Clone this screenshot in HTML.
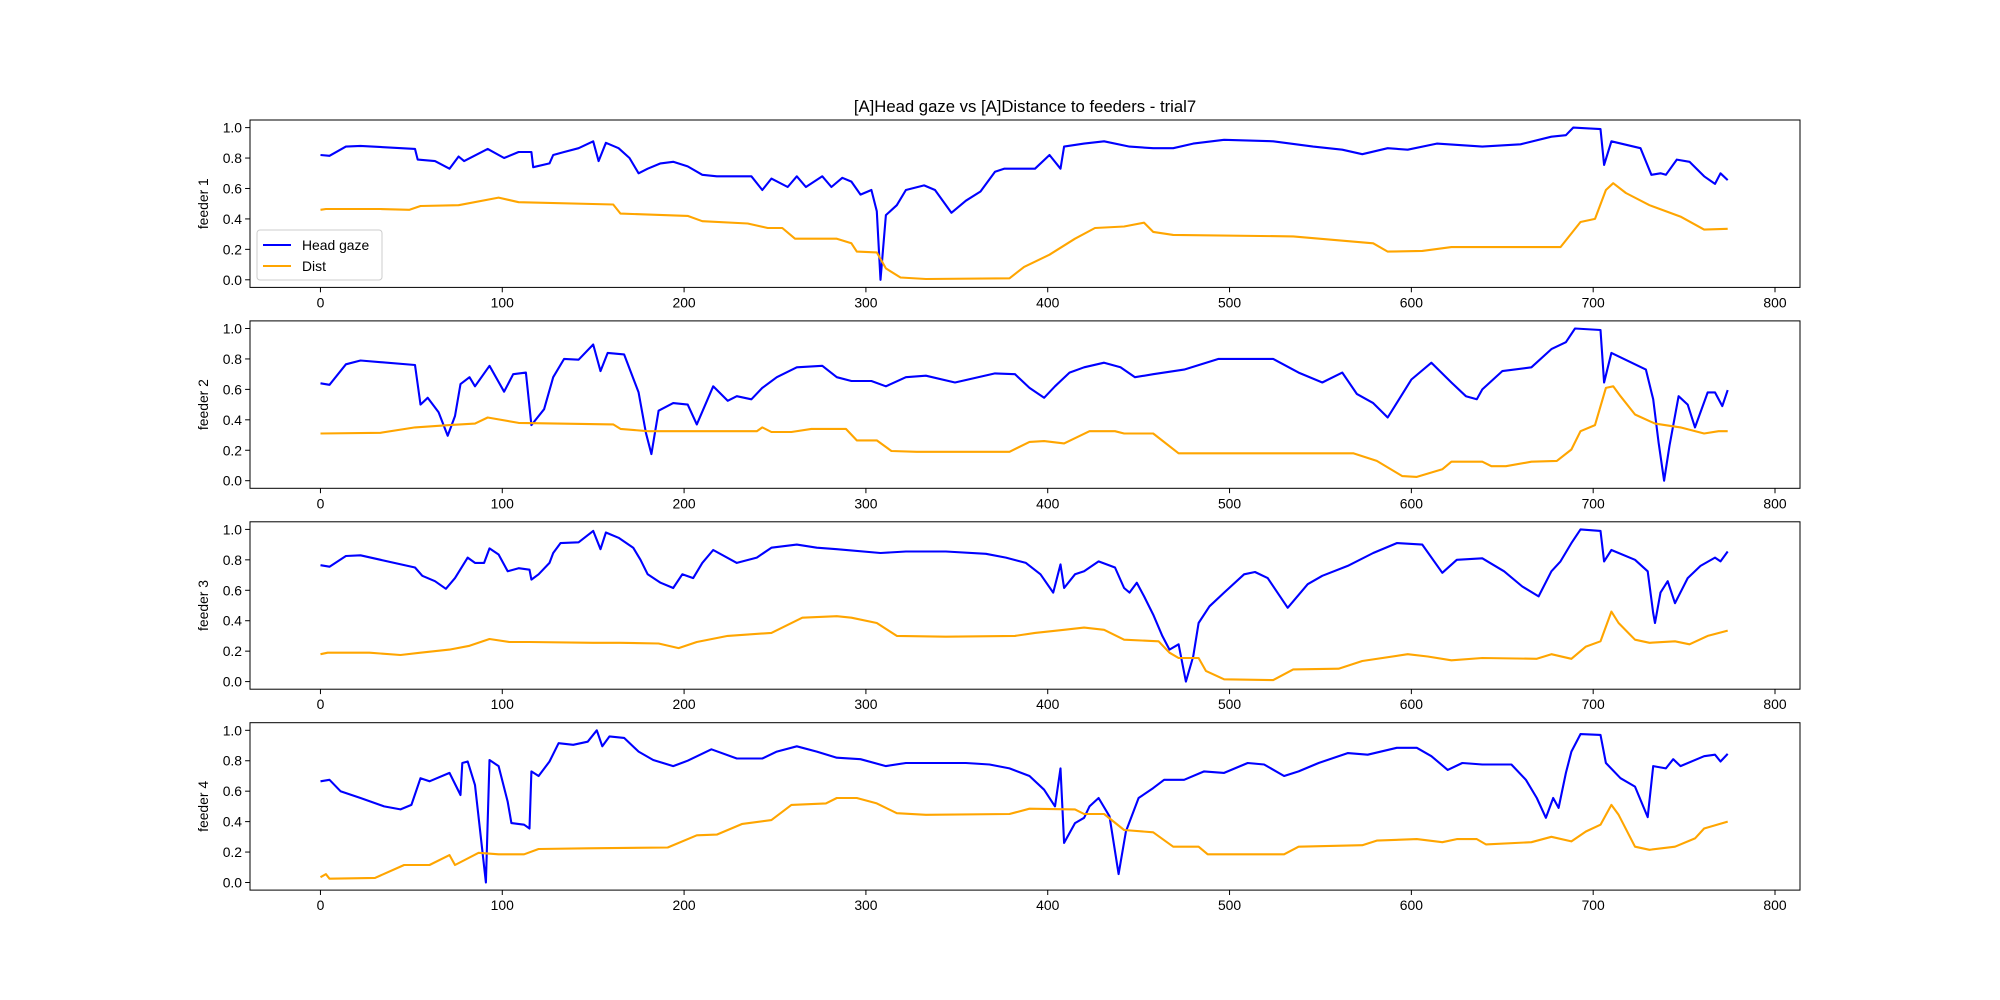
<!DOCTYPE html>
<html><head><meta charset="utf-8"><style>
html,body{margin:0;padding:0;background:#fff;}
svg{display:block;font-family:"Liberation Sans","DejaVu Sans",sans-serif;}
</style></head><body>
<svg id="chart" width="2000" height="1000" viewBox="0 0 2000 1000" xmlns="http://www.w3.org/2000/svg">
<rect width="2000" height="1000" fill="#fff"/>
<text x="1025" y="112" font-size="16.7" text-anchor="middle">[A]Head gaze vs [A]Distance to feeders - trial7</text>
</svg>
<script>
const xTicks = [0,100,200,300,400,500,600,700,800];
const yTicks = [0,0.2,0.4,0.6,0.8,1.0];
const panelLabels = ["feeder 1","feeder 2","feeder 3","feeder 4"];

const gaze1 = [[0,.82],[5,.815],[14,.875],[22,.88],[52,.86],[53.5,.79],[63,.78],[71,.73],[76,.81],[79,.78],[92,.86],[101,.8],[109,.84],[116,.84],[117,.74],[126,.765],[128,.82],[134,.84],[142,.865],[150,.91],[153,.78],[157,.9],[164,.865],[170,.8],[175,.7],[180,.73],[187,.765],[194,.775],[202,.745],[210,.69],[218,.68],[229,.68],[237,.68],[243,.59],[248,.665],[257,.61],[262,.68],[267,.61],[276,.68],[281,.61],[287,.67],[292,.645],[297,.56],[303,.59],[306,.45],[308,0],[311,.425],[317,.49],[322,.59],[332,.62],[338,.59],[347,.44],[355,.52],[363,.58],[371,.71],[376,.73],[393,.73],[401,.82],[407,.73],[409,.875],[420,.895],[431,.91],[445,.875],[458,.865],[469,.865],[480,.895],[497,.92],[524,.91],[546,.875],[562,.855],[573,.825],[587,.865],[598,.855],[614,.895],[639,.875],[660,.89],[677,.94],[685,.95],[689,1],[704,.99],[706,.755],[710,.91],[726,.865],[732,.69],[737,.7],[740,.69],[746,.79],[753,.775],[761,.68],[767,.63],[770,.7],[774,.655]];
const dist1 = [[0,.46],[3,.465],[33,.465],[49,.46],[55,.485],[76,.49],[98,.54],[109,.51],[161,.495],[165,.435],[202,.42],[210,.385],[235,.37],[246,.34],[254,.34],[261,.27],[284,.27],[292,.24],[295,.185],[306,.18],[311,.075],[319,.015],[333,.005],[379,.01],[387,.085],[401,.165],[415,.27],[426,.34],[442,.35],[453,.375],[458,.315],[469,.295],[535,.285],[579,.24],[587,.185],[606,.19],[622,.215],[682,.215],[693,.38],[701,.4],[707,.59],[711,.635],[718,.57],[731,.49],[748,.415],[761,.33],[774,.335]];
const gaze2 = [[0,.64],[5,.63],[14,.765],[22,.79],[52,.76],[55,.5],[59,.545],[65,.45],[70,.295],[74,.425],[77,.635],[82,.68],[85,.62],[93,.755],[101,.585],[106,.7],[113,.71],[116,.365],[123,.47],[128,.68],[134,.8],[142,.795],[150,.895],[154,.72],[158,.84],[167,.83],[175,.58],[179,.315],[182,.175],[186,.46],[194,.51],[202,.5],[207,.37],[216,.62],[224,.525],[229,.555],[237,.535],[243,.61],[251,.68],[262,.745],[276,.755],[284,.68],[292,.655],[303,.655],[311,.62],[322,.68],[333,.69],[349,.645],[371,.705],[382,.7],[390,.61],[398,.545],[404,.62],[412,.71],[420,.745],[431,.775],[440,.745],[448,.68],[458,.7],[475,.73],[494,.8],[524,.8],[538,.71],[551,.645],[562,.71],[570,.57],[579,.51],[587,.415],[600,.665],[611,.775],[622,.645],[630,.555],[636,.535],[639,.6],[650,.72],[666,.745],[677,.865],[685,.91],[690,1.0],[704,.99],[706,.645],[710,.84],[729,.73],[733,.535],[736,.25],[739,0],[742,.23],[747,.555],[752,.5],[756,.35],[763,.58],[767,.58],[771,.49],[774,.595]];
const dist2 = [[0,.31],[33,.315],[52,.35],[71,.365],[85,.375],[92,.415],[109,.38],[161,.37],[165,.34],[180,.325],[240,.325],[243,.35],[248,.32],[259,.32],[270,.34],[289,.34],[295,.265],[306,.265],[314,.195],[328,.19],[379,.19],[390,.255],[398,.26],[409,.245],[423,.325],[437,.325],[442,.31],[458,.31],[472,.18],[568,.18],[581,.13],[595,.03],[603,.025],[617,.075],[622,.125],[639,.125],[644,.095],[652,.095],[666,.125],[680,.13],[688,.205],[693,.325],[701,.365],[707,.61],[711,.62],[715,.555],[723,.435],[734,.375],[748,.35],[761,.31],[769,.325],[774,.325]];
const gaze3 = [[0,.765],[5,.755],[14,.825],[22,.83],[52,.75],[56,.695],[63,.66],[69,.61],[74,.68],[81,.815],[85,.78],[90,.78],[93,.875],[98,.835],[103,.725],[109,.745],[115,.735],[116,.67],[120,.705],[126,.78],[128,.845],[132,.91],[142,.915],[150,.99],[154,.87],[157,.98],[164,.945],[172,.88],[176,.8],[180,.705],[187,.65],[194,.615],[199,.705],[205,.68],[210,.78],[216,.865],[229,.78],[240,.815],[248,.88],[262,.9],[273,.88],[284,.87],[308,.845],[322,.855],[344,.855],[366,.84],[377,.815],[388,.78],[396,.705],[403,.585],[407,.77],[409,.615],[415,.705],[420,.725],[428,.79],[437,.75],[442,.615],[445,.585],[449,.65],[453,.56],[458,.44],[463,.3],[467,.21],[472,.245],[476,0],[480,.165],[483,.385],[489,.495],[497,.585],[508,.705],[514,.72],[521,.68],[532,.485],[543,.64],[551,.695],[565,.76],[579,.845],[592,.91],[606,.9],[617,.715],[625,.8],[639,.81],[651,.725],[661,.625],[670,.56],[677,.725],[682,.79],[688,.91],[693,1.0],[704,.99],[706,.79],[710,.865],[723,.8],[730,.725],[733,.45],[734,.385],[737,.585],[741,.66],[745,.515],[752,.68],[759,.76],[767,.815],[770,.79],[774,.855]];
const dist3 = [[0,.18],[4,.19],[27,.19],[44,.175],[55,.19],[71,.21],[82,.235],[93,.28],[104,.26],[115,.26],[150,.255],[165,.255],[186,.25],[197,.22],[207,.26],[224,.3],[248,.32],[265,.42],[284,.43],[292,.42],[306,.385],[317,.3],[344,.295],[382,.3],[393,.32],[409,.34],[420,.355],[431,.34],[442,.275],[461,.265],[467,.19],[472,.155],[483,.155],[487,.07],[497,.015],[524,.01],[535,.08],[560,.085],[573,.135],[598,.18],[609,.165],[622,.14],[639,.155],[669,.15],[677,.18],[688,.15],[696,.23],[704,.265],[710,.46],[714,.385],[723,.275],[731,.255],[745,.265],[753,.245],[763,.3],[774,.335]];
const gaze4 = [[0,.665],[5,.675],[11,.6],[22,.555],[35,.5],[44,.48],[50,.51],[55,.685],[60,.665],[71,.72],[77,.575],[78,.785],[81,.795],[85,.64],[91,0],[93,.805],[98,.765],[103,.53],[105,.39],[112,.38],[115,.355],[116,.73],[120,.7],[126,.795],[131,.915],[139,.905],[147,.925],[152,1.0],[155,.895],[159,.96],[167,.95],[175,.86],[183,.805],[194,.765],[202,.8],[215,.875],[229,.815],[243,.815],[251,.86],[262,.895],[273,.86],[284,.82],[297,.81],[311,.765],[322,.785],[355,.785],[368,.775],[379,.75],[390,.7],[398,.61],[404,.5],[407,.75],[409,.26],[415,.39],[420,.425],[423,.5],[428,.555],[434,.435],[439,.055],[443,.335],[450,.555],[458,.62],[464,.675],[475,.675],[486,.73],[497,.72],[510,.785],[519,.775],[530,.7],[538,.73],[549,.785],[565,.85],[576,.84],[592,.885],[603,.885],[611,.83],[620,.74],[628,.785],[639,.775],[655,.775],[663,.675],[669,.555],[674,.425],[678,.555],[681,.49],[685,.72],[688,.86],[693,.975],[704,.97],[707,.785],[715,.685],[723,.63],[730,.43],[733,.765],[740,.75],[744,.81],[748,.765],[761,.83],[767,.84],[770,.795],[774,.845]];
const dist4 = [[0,.035],[3,.055],[5,.025],[30,.03],[46,.115],[60,.115],[71,.18],[74,.115],[87,.195],[98,.185],[112,.185],[120,.22],[147,.225],[191,.23],[207,.31],[218,.315],[232,.385],[248,.41],[259,.51],[278,.52],[284,.555],[295,.555],[306,.52],[317,.455],[333,.445],[379,.45],[390,.485],[415,.48],[420,.45],[431,.45],[442,.345],[458,.33],[469,.235],[483,.235],[488,.185],[530,.185],[538,.235],[573,.245],[581,.275],[603,.285],[617,.265],[625,.285],[636,.285],[641,.25],[666,.265],[677,.3],[688,.27],[696,.335],[704,.38],[710,.51],[714,.445],[723,.235],[731,.215],[745,.235],[756,.29],[761,.355],[774,.4]];

const gazeSeries = [gaze1,gaze2,gaze3,gaze4];
const distSeries = [dist1,dist2,dist3,dist4];

const NS = "http://www.w3.org/2000/svg";
const svg = document.getElementById("chart");
const L = 250, R = 1800, axH = 167.4, gap = 33.5, top0 = 120;
const xMin = -38.75, xMax = 813.75, yMin = -0.05, yMax = 1.05;
function xScale(v){ return L + (v - xMin) / (xMax - xMin) * (R - L); }
function yScale(v, t){ return t + axH - (v - yMin) / (yMax - yMin) * axH; }
function mk(tag, attrs, parent){ const e = document.createElementNS(NS, tag); for (const k in attrs) e.setAttribute(k, attrs[k]); (parent||svg).appendChild(e); return e; }

for (let p = 0; p < 4; p++) {
  const t = top0 + p * (axH + gap);
  const g = mk("g", {});
  
  
  // x ticks
  xTicks.forEach(v => {
    const x = xScale(v);
    const tk = mk("line", {x1:x, x2:x, y1:t+axH, y2:t+axH+4.9, stroke:"#000", "stroke-width":1}, g);
    
    
    const lb = mk("text", {x:x, y:t+axH+20, "font-size":13.9, "text-anchor":"middle"}, g);
    lb.textContent = v;
    
    
  });
  yTicks.forEach(v => {
    const y = yScale(v, t);
    const tk = mk("line", {x1:L-4.9, x2:L, y1:y, y2:y, stroke:"#000", "stroke-width":1}, g);
    
    
    const lb = mk("text", {x:L-8, y:y+5, "font-size":13.9, "text-anchor":"end"}, g);
    lb.textContent = v.toFixed(1);
    
    
  });
  const yl = mk("text", {x:0, y:0, "font-size":13.9, "text-anchor":"middle", transform:"translate(208," + (t+axH/2) + ") rotate(-90)"}, g);
  yl.textContent = panelLabels[p];
  
  

  const toPts = arr => arr.map(d => xScale(d[0]).toFixed(1) + "," + yScale(d[1], t).toFixed(1)).join(" ");
  const gl = mk("polyline", {points: toPts(gazeSeries[p]), fill:"none", stroke:"#0000ff", "stroke-width":2.1, "stroke-linejoin":"round"}, g);
  
  
  const dl = mk("polyline", {points: toPts(distSeries[p]), fill:"none", stroke:"#ffa500", "stroke-width":2.1, "stroke-linejoin":"round"}, g);
  
  

  const fr = mk("rect", {x:L, y:t, width:R-L, height:axH, fill:"none", stroke:"#000", "stroke-width":1}, g);
  
  

  if (p === 0) {
    const lg = mk("g", {}, g);
    
    
    mk("rect", {x:257, y:230, width:125, height:50, rx:3, fill:"#fff", "fill-opacity":0.8, stroke:"#ccc", "stroke-width":1}, lg);
    const l1 = mk("line", {x1:263, x2:291, y1:245, y2:245, stroke:"#0000ff", "stroke-width":2.1}, lg);
    
    
    const t1 = mk("text", {x:302, y:250, "font-size":13.9}, lg);
    t1.textContent = "Head gaze";
    
    
    const l2 = mk("line", {x1:263, x2:291, y1:266, y2:266, stroke:"#ffa500", "stroke-width":2.1}, lg);
    
    
    const t2 = mk("text", {x:302, y:271, "font-size":13.9}, lg);
    t2.textContent = "Dist";
    
    
  }
}
</script>
</body></html>
